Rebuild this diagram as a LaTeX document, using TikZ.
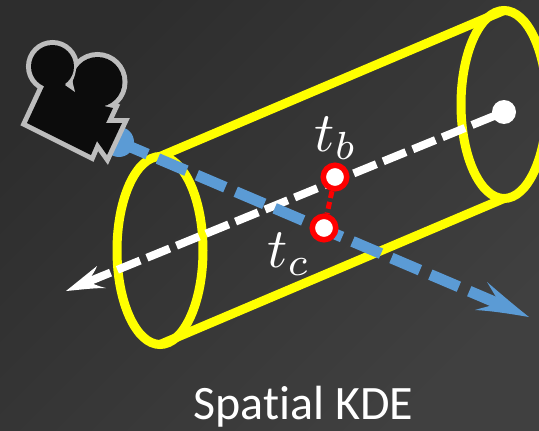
\documentclass[tikz,border=0pt]{standalone}
\usepackage{fontspec}
\setmainfont{Carlito}
\definecolor{ky}{HTML}{FFFF00}
\definecolor{kb}{HTML}{5B9BD5}
\definecolor{kd}{HTML}{0C0C0C}
\definecolor{kg}{HTML}{BDBDBD}
\definecolor{bgA}{HTML}{2D2D2D}
\definecolor{bgB}{HTML}{404040}
\tikzset{
  rim/.style={draw=ky,line width=9pt},
  axisline/.style={draw=white,line width=8pt,dash pattern=on 24.5pt off 7.4pt},
  rayline/.style={draw=kb,line width=11pt,dash pattern=on 31pt off 11.3pt},
  hit/.style={circle,draw=red,fill=white,line width=5.5pt,minimum size=23.5pt,inner sep=0pt},
  mathlabel/.style={text=white,scale=5.6,transform shape,inner sep=0pt}
}
\begin{document}
\begin{tikzpicture}[x=1pt,y=-1pt]
\useasboundingbox (0,0) rectangle (539,431);
\fill[top color=bgA,bottom color=bgB,shading angle=45] (0,0) rectangle (539,431);
\begin{scope}
\clip (0,0) rectangle (539,431);
% cylinder
\draw[rim] (160,250.5) ellipse [x radius=43,y radius=94];
\draw[rim] (504,104.5) ellipse [x radius=43,y radius=94];
\coordinate (lt) at (160,156.5);
\coordinate (rt) at (504,10.5);
\coordinate (lb) at (160,344.5);
\coordinate (rb) at (504,198.5);
\draw[rim] (lt) -- (rt);
\draw[rim] (lb) -- (rb);
% white axis
\node[circle,fill=white,minimum size=24pt,inner sep=0pt] (dot) at (504,112) {};
\coordinate (a1) at (472,125);
\coordinate (a2) at (465,128);
\coordinate (a3) at (90,281);
\draw[draw=white,line width=8pt] (dot.center) -- (a1);
\draw[axisline] (a2) -- (a3);
\fill[white] (66,291) -- (97,266) .. controls (95,271) and (93,274) .. (90,278) -- (91,283) .. controls (96,285) and (101,287) .. (106,288) .. controls (92,288) and (78,290) .. (66,291) -- cycle;
% blue ray
\node[circle,fill=kb,minimum size=30pt,inner sep=0pt] (eye) at (119,142) {};
\coordinate (b1) at (497,303);
\draw[rayline] (eye.center) -- (b1);
\fill[kb] (529,317) .. controls (511,314) and (493,311) .. (475,310) .. controls (481,308) and (487,307) .. (492,305) -- (496,297) .. controls (493,292) and (490,287) .. (487,282) .. controls (501,294) and (515,306) .. (529,317) -- cycle;
% camera
\def\campath{(52.5,66.5) circle [radius=21.5] (97.5,82) circle [radius=25]
  (47,80) -- (27,123) -- (91,155) -- (97,141) -- (107,155) -- (122,123) -- (106,123) -- (113,108) -- (104,106) -- (90,90) -- cycle}
\draw[kg,line width=10pt,line join=miter,fill=kg] \campath;
\fill[kd] (52.5,66.5) circle [radius=21.5];
\fill[kd] (97.5,82) circle [radius=25];
\fill[kd] (47,80) -- (27,123) -- (91,155) -- (97,141) -- (107,155) -- (122,123) -- (106,123) -- (113,108) -- (104,106) -- (90,90) -- cycle;
\draw[kg,line width=1.5pt] (75.5,62) .. controls (76,70) and (74,80) .. (68,86);
\fill[kg] (65,85) -- (72,80) -- (75,92) -- cycle;
% hit points
\node[hit] (tb) at (335,177) {};
\node[hit] (tc) at (324,228) {};
\draw[red,line width=5pt,dash pattern=on 7pt off 4pt] (tb) -- (tc);
\node[mathlabel] (lb1) at (336,138) {$t_b$};
\node[mathlabel] (lc1) at (289,254) {$t_c$};
\node[text=white,inner sep=0pt,font=\fontsize{48}{48}\selectfont] (title) at (303.5,407) {Spat\kern0pt ial KDE};
\end{scope}
\end{tikzpicture}
\end{document}
